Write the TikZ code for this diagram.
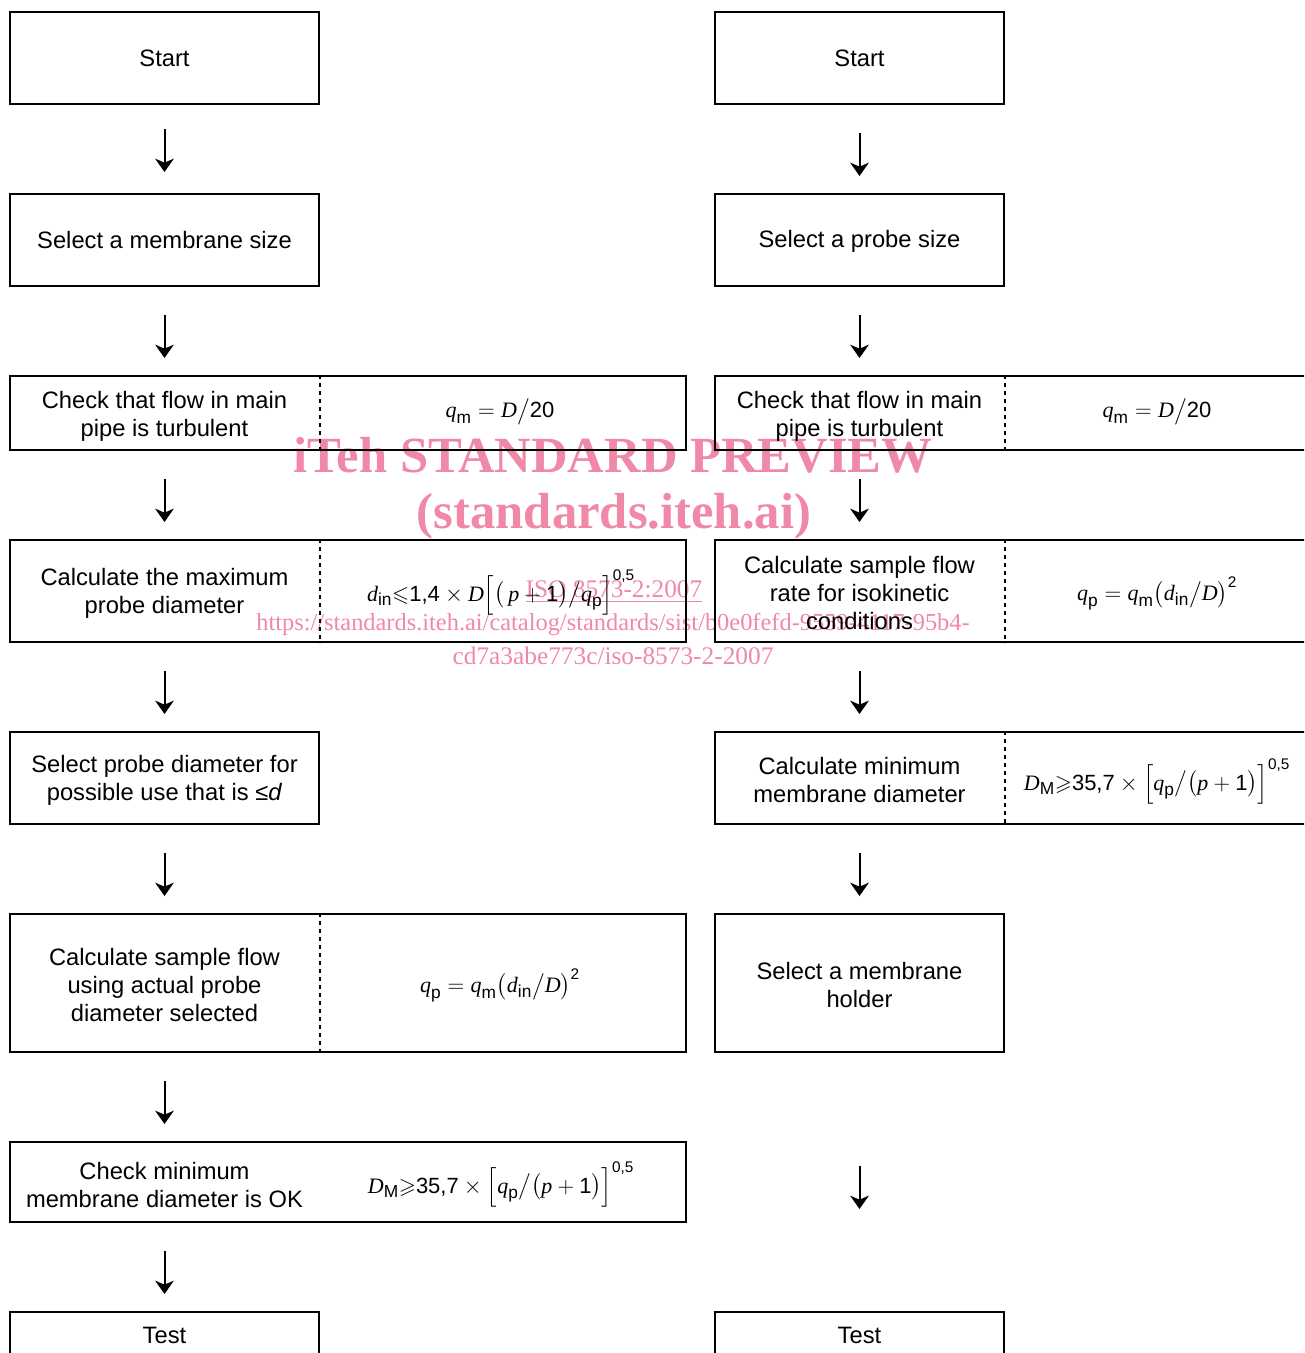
\documentclass[tikz,border=0pt]{standalone}
\usepackage{amsmath,amssymb}
\usepackage{fontspec}
\setmainfont{Liberation Sans}
\newfontfamily\tms{Liberation Serif}
\usetikzlibrary{arrows.meta}
\newcommand{\vi}[1]{\text{\tms\itshape #1}}
\newcommand{\sbx}[1]{_{\text{\fontsize{13pt}{13pt}\selectfont #1}}}
\newcommand{\fs}{\fontsize{17.8pt}{21pt}\selectfont}
\newcommand{\fe}{\fontsize{16.5pt}{20pt}\selectfont}
\definecolor{wm}{RGB}{239,137,167}
\tikzset{
  box/.style={draw, line width=1.5pt, inner sep=0pt, align=center, font=\fs},
  lbl/.style={inner sep=0pt, align=center, font=\fs},
  eq/.style={inner sep=0pt, font=\fe},
  div/.style={line width=1.2pt, dash pattern=on 3pt off 3pt},
  arr/.style={line width=1.5pt, -{Stealth[length=10pt,width=14pt,inset=3pt]}, shorten <=21pt, shorten >=12.75pt},
  wmbig/.style={text=wm, inner sep=0pt, font=\tms\bfseries\fontsize{38pt}{40pt}\selectfont},
  wmsmall/.style={text=wm, inner sep=0pt, font=\tms\fontsize{19pt}{21pt}\selectfont}
}
\begin{document}
\begin{tikzpicture}[x=0.75pt,y=-0.75pt]
\clip (0,0) rectangle (1304,1353);
% watermark (behind)
\node[wmbig] (w1) at (613,455) {iTeh STANDARD PREVIEW};
\node[wmbig] (w2) at (614,516) {(standards.iteh.ai)};
\node[wmsmall] (w3) at (614,592) {\underline{ISO 8573-2:2007}};
\node[wmsmall, font=\tms\fontsize{18.3pt}{21pt}\selectfont] (w4) at (613,625) {https://standards.iteh.ai/catalog/standards/sist/b0e0fefd-9559-4117-95b4-};
\node[wmsmall] (w5) at (613,656) {cd7a3abe773c/iso-8573-2-2007};

% left column
\node[box, minimum width=309*0.75pt, minimum height=92*0.75pt] (l1) at (164.5,58) {Start};
\node[box, minimum width=309*0.75pt, minimum height=92*0.75pt] (l2) at (164.5,240) {Select a membrane size};
\node[box, minimum width=676*0.75pt, minimum height=74*0.75pt] (l3) at (348,413) {};
\node[lbl] (l3t) at (164.5,416) {Check that flow in main\\pipe is turbulent};
\node[eq] (l3e) at (500,412) {$\vi{q}\sbx{m} = \vi{D}\big/\text{20}$};
\node[box, minimum width=676*0.75pt, minimum height=102*0.75pt] (l4) at (348,591) {};
\node[lbl] (l4t) at (164.5,593) {Calculate the maximum\\probe diameter};
\node[eq] (l4e) at (501,593) {$\vi{d}\sbx{in}{\leqslant}\text{1,4}\times\vi{D}\Big[\big(\,\vi{p}+\text{1}\big)\big/\vi{q}\sbx{p}\Big]^{\text{0,5}}$};
\node[box, minimum width=309*0.75pt, minimum height=92*0.75pt] (l5) at (164.5,778) {};
\node[lbl] (l5t) at (164.5,780) {Select probe diameter for\\possible use that is ≤\textit{d}};
\node[box, minimum width=676*0.75pt, minimum height=138*0.75pt] (l6) at (348,983) {};
\node[lbl] (l6t) at (164.5,985) {Calculate sample flow\\using actual probe\\diameter selected};
\node[eq] (l6e) at (500,985) {$\vi{q}\sbx{p} = \vi{q}\sbx{m}\big(\vi{d}\sbx{in}\big/\vi{D}\big)^{\text{2}}$};
\node[box, minimum width=676*0.75pt, minimum height=80*0.75pt] (l7) at (348,1182) {};
\node[lbl] (l7t) at (164.5,1185) {Check minimum\\membrane diameter is OK};
\node[eq] (l7e) at (501,1185) {$\vi{D}\sbx{M}{\geqslant}\text{35,7}\times\Big[\vi{q}\sbx{p}\big/\big(\vi{p}+\text{1}\big)\Big]^{\text{0,5}}$};
\node[box, minimum width=309*0.75pt, minimum height=46*0.75pt] (l8) at (164.5,1335) {Test};

\draw[div] (l3.north -| l1.east) -- (l3.south -| l1.east);
\draw[div] (l4.north -| l1.east) -- (l4.south -| l1.east);
\draw[div] (l6.north -| l1.east) -- (l6.south -| l1.east);

\draw[arr, shorten <=18pt, shorten >=15.75pt] (l1) -- (l2);
\draw[arr] (l2.south) -- (l2.south |- l3.north);
\draw[arr] (l2.south |- l3.south) -- (l2.south |- l4.north);
\draw[arr] (l2.south |- l4.south) -- (l5.north);
\draw[arr] (l5.south) -- (l5.south |- l6.north);
\draw[arr] (l5.south |- l6.south) -- (l5.south |- l7.north);
\draw[arr] (l5.south |- l7.south) -- (l8.north);

% right column
\node[box, minimum width=289*0.75pt, minimum height=92*0.75pt] (r1) at (859.5,58) {Start};
\node[box, minimum width=289*0.75pt, minimum height=92*0.75pt] (r2) at (859.5,240) {};
\node[lbl] (r2t) at (859.5,241.5) {Select a probe size};
\node[box, minimum width=605*0.75pt, minimum height=74*0.75pt] (r3) at (1017.5,413) {};
\node[lbl] (r3t) at (859.5,416) {Check that flow in main\\pipe is turbulent};
\node[eq] (r3e) at (1157,412) {$\vi{q}\sbx{m} = \vi{D}\big/\text{20}$};
\node[box, minimum width=605*0.75pt, minimum height=102*0.75pt] (r4) at (1017.5,591) {};
\node[lbl] (r4t) at (859.5,593) {Calculate sample flow\\rate for isokinetic\\conditions};
\node[eq] (r4e) at (1157,593) {$\vi{q}\sbx{p} = \vi{q}\sbx{m}\big(\vi{d}\sbx{in}\big/\vi{D}\big)^{\text{2}}$};
\node[box, minimum width=605*0.75pt, minimum height=92*0.75pt] (r5) at (1017.5,778) {};
\node[lbl] (r5t) at (859.5,780) {Calculate minimum\\membrane diameter};
\node[eq] (r5e) at (1157,782) {$\vi{D}\sbx{M}{\geqslant}\text{35,7}\times\Big[\vi{q}\sbx{p}\big/\big(\vi{p}+\text{1}\big)\Big]^{\text{0,5}}$};
\node[box, minimum width=289*0.75pt, minimum height=138*0.75pt] (r6) at (859.5,983) {};
\node[lbl] (r6t) at (859.5,985) {Select a membrane\\holder};
\node[box, minimum width=289*0.75pt, minimum height=46*0.75pt] (r8) at (859.5,1335) {Test};

\draw[div] (r3.north -| r1.east) -- (r3.south -| r1.east);
\draw[div] (r4.north -| r1.east) -- (r4.south -| r1.east);
\draw[div] (r5.north -| r1.east) -- (r5.south -| r1.east);

\draw[arr, shorten <=21pt, shorten >=12.75pt] (r1) -- (r2);
\draw[arr] (r2.south) -- (r2.south |- r3.north);
\draw[arr] (r2.south |- r3.south) -- (r2.south |- r4.north);
\draw[arr] (r2.south |- r4.south) -- (r2.south |- r5.north);
\draw[arr] (r2.south |- r5.south) -- (r6.north);
\draw[arr, shorten <=84.75pt, shorten >=76.5pt] (r6.south) -- (r8.north);
\end{tikzpicture}
\end{document}
